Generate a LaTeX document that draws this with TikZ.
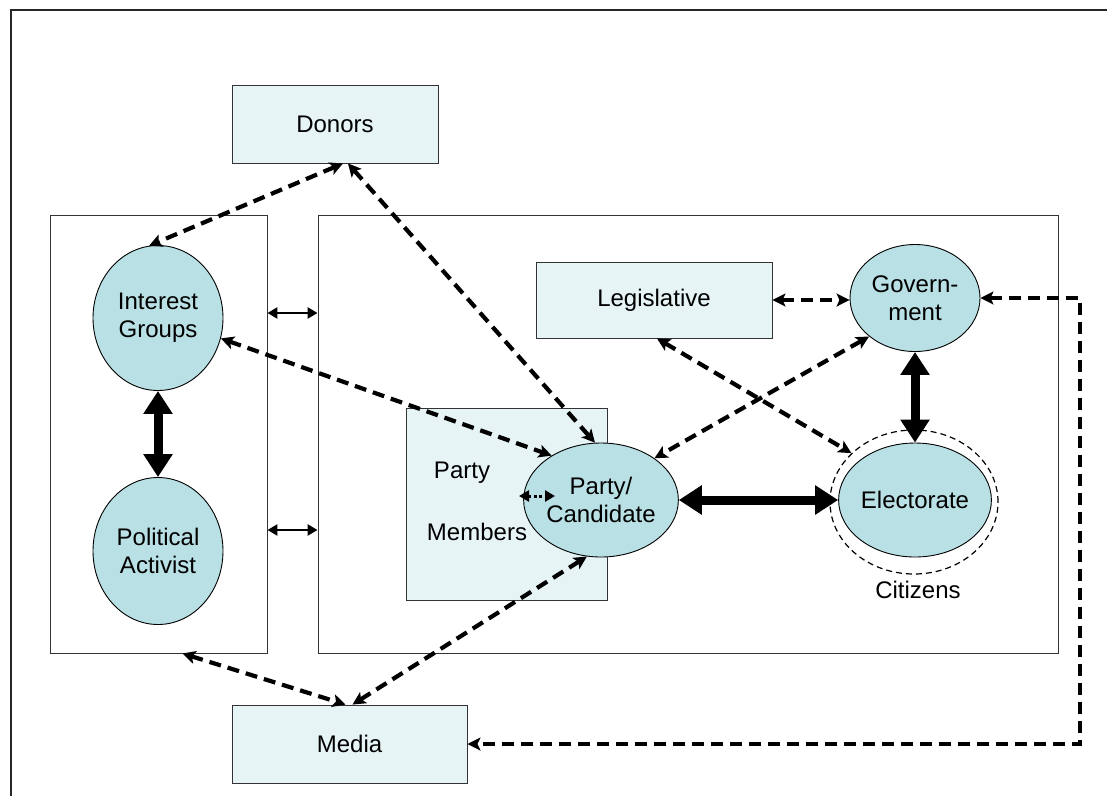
\documentclass[tikz,border=0pt]{standalone}
\usepackage{fontspec}
\setmainfont{Liberation Sans}
\usetikzlibrary{shapes.geometric,arrows.meta}
\definecolor{boxfill}{HTML}{E6F4F6}
\definecolor{ellfill}{HTML}{B9E0E4}
\begin{document}
\begin{tikzpicture}[x=1pt,y=-1pt, font=\fontsize{24}{28}\selectfont,
  box/.style={draw=black!80, line width=0.9pt, fill=boxfill, rectangle, inner sep=0pt},
  frame/.style={draw=black!80, line width=0.9pt, rectangle, inner sep=0pt},
  ell/.style={ellipse, draw=black, line width=0.9pt, fill=ellfill, inner sep=0pt, align=center},
  dasharrow/.style={line width=4.2pt, dash pattern=on 12pt off 7pt,
    {Stealth[length=13pt,width=13pt,inset=3pt]}-{Stealth[length=13pt,width=13pt,inset=3pt]}},
  thickarrow/.style={line width=9pt, {Triangle[length=23pt,width=28pt]}-{Triangle[length=23pt,width=28pt]}},
  thinarrow/.style={line width=2.8pt, {Triangle[length=10pt,width=11pt]}-{Triangle[length=10pt,width=11pt]}},
  dotarrow/.style={line width=3pt, dash pattern=on 3pt off 2.5pt, {Triangle[length=10pt,width=11pt]}-{Triangle[length=10pt,width=11pt]}},
  plain/.style={inner sep=0pt}
]
\useasboundingbox (0,0) rectangle (1107,796);
% outer frame (top and left edges only visible)
\draw[line width=2pt, black!85] (11,796) -- (11,10) -- (1107,10);

% containers
\node[frame, minimum width=217pt, minimum height=438pt] (leftbox) at (158.5,434) {};
\node[frame, minimum width=740pt, minimum height=438pt] (rightbox) at (688,434) {};

% boxes
\node[box, minimum width=206pt, minimum height=78pt] (donors) at (335,124) {Donors};
\node[box, minimum width=236pt, minimum height=76pt] (legis) at (654,300) {Legislative};
\node[box, minimum width=201pt, minimum height=192pt] (pm) at (506.5,504) {};
\node[box, minimum width=235pt, minimum height=78pt] (media) at (349.5,744) {Media};

% party members labels
\node[plain] (partylbl) at (462,473) {Party};
\node[plain] (memberslbl) at (477,532) {Members};

% ellipses
\node[ell, minimum width=130pt, minimum height=145pt] (ig) at (158,318) {Interest\\Groups};
\node[ell, minimum width=130pt, minimum height=147pt] (pa) at (158,551) {Political\\Activist};
\node[ell, minimum width=130pt, minimum height=114pt] (pc) at (601,500) {Party/\\Candidate};
\node[ell, minimum width=130pt, minimum height=107pt] (gov) at (915,298) {Govern-\\ment};
\node[ellipse, draw=black, line width=1.2pt, dash pattern=on 6pt off 4pt, minimum width=168pt, minimum height=144pt] (cit) at (914,502) {};
\node[ell, minimum width=132pt, minimum height=114pt] (el) at (915,500) {Electorate};
\node[plain] (citlbl) at (918,590) {Citizens};

% coordinates
\coordinate (dotL) at (519,496);
\coordinate (dotR) at (555,496);
\coordinate (turn) at (1080,298);

% connectors
\draw[dasharrow] ([xshift=8pt]donors.south) -- (ig.97);
\draw[dasharrow] ([xshift=13pt]donors.south) -- (pc.96);
\draw[dasharrow] (ig.-18) -- (pc.138);
\draw[dasharrow] (legis.east) -- (legis.east -| gov.west);
\draw[dasharrow] ([xshift=3pt]legis.south) -- (cit.142);
\draw[dasharrow] (gov.-140) -- (pc.38);
\draw[dasharrow] ([xshift=24pt]leftbox.south) -- ([xshift=-4pt]media.north);
\draw[dasharrow] ([xshift=3pt]media.north) -- (pc.-104);
\draw[dasharrow] (gov.east) -- (turn) |- (media.east);

\draw[thickarrow] (ig.south) -- (pa.north);
\draw[thickarrow] (gov.south) -- (el.north);
\draw[thickarrow] (pc.east) -- (el.west);

\draw[thinarrow] ([yshift=121pt]leftbox.east) -- ([yshift=121pt]leftbox.east -| rightbox.west);
\draw[thinarrow] ([yshift=-96pt]leftbox.east) -- ([yshift=-96pt]leftbox.east -| rightbox.west);

\draw[dotarrow] (dotL) -- (dotR);
\end{tikzpicture}
\end{document}
